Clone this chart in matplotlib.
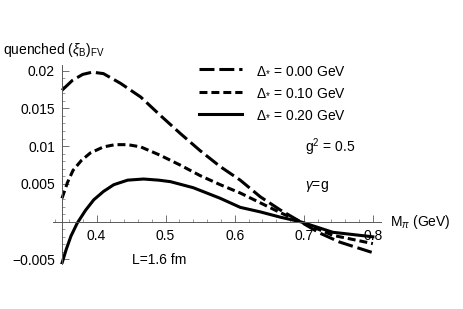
import numpy as np
import matplotlib
matplotlib.use('Agg')
import matplotlib.pyplot as plt
from matplotlib.ticker import MultipleLocator, FixedLocator, FixedFormatter

plt.rcParams['font.family'] = ['Liberation Sans', 'DejaVu Sans']
plt.rcParams['mathtext.fontset'] = 'custom'
plt.rcParams['mathtext.rm'] = 'Liberation Sans'
plt.rcParams['mathtext.it'] = 'Liberation Sans:italic'
plt.rcParams['mathtext.sf'] = 'Liberation Sans'

# values (M_pi in GeV, quenched (xi_B)_FV)
m_d000 = [0.35, 0.365, 0.38, 0.394, 0.41, 0.435, 0.464, 0.492, 0.521, 0.55,
          0.579, 0.608, 0.637, 0.666, 0.695, 0.723, 0.752, 0.80]
xi_d000 = [0.0174, 0.0187, 0.0195, 0.0198, 0.0196, 0.0183, 0.0165, 0.0141,
           0.0117, 0.0094, 0.0073, 0.0055, 0.0033, 0.00155, 0.0, -0.0015,
           -0.0027, -0.0041]

m_d010 = [0.35, 0.358, 0.366, 0.378, 0.391, 0.41, 0.427, 0.445, 0.464, 0.492,
          0.521, 0.55, 0.579, 0.608, 0.637, 0.666, 0.695, 0.742, 0.80]
xi_d010 = [0.0031, 0.0052, 0.0068, 0.0081, 0.0091, 0.0099, 0.0102, 0.0102,
           0.0099, 0.0088, 0.0075, 0.0061, 0.0049, 0.0038, 0.0025, 0.0012,
           0.0, -0.0018, -0.0029]

m_d020 = [0.35, 0.356, 0.363, 0.372, 0.384, 0.396, 0.41, 0.425, 0.445, 0.468,
          0.49, 0.507, 0.54, 0.579, 0.608, 0.637, 0.666, 0.695, 0.742, 0.80]
xi_d020 = [-0.0055, -0.0037, -0.0019, -0.0002, 0.0015, 0.0029, 0.0040,
           0.0049, 0.0055, 0.00565, 0.0055, 0.0053, 0.0045, 0.0031, 0.0019,
           0.0013, 0.0006, 0.0, -0.0014, -0.0020]

labels = [r'$\Delta_{*}$ = 0.00 GeV', r'$\Delta_{*}$ = 0.10 GeV',
          r'$\Delta_{*}$ = 0.20 GeV']
x_ticks = [0.4, 0.5, 0.6, 0.7, 0.8]
y_ticks = [-0.005, 0.005, 0.01, 0.015, 0.02]
y_ticklabels = ['\u22120.005', '0.005', '0.01', '0.015', '0.02']

fig = plt.figure(figsize=(4.63, 3.09), dpi=100)
ax = fig.add_axes([0.1145, 0.1456, 0.708, 0.643])

lw = 2.2
ax.plot(m_d000, xi_d000, color='black', lw=lw, dashes=(4.9, 1.6),
        label=labels[0], dash_capstyle='butt')
ax.plot(m_d010, xi_d010, color='black', lw=lw, dashes=(2.6, 1.3),
        label=labels[1], dash_capstyle='butt')
ax.plot(m_d020, xi_d020, color='black', lw=lw, label=labels[2])

ax.set_xlim(0.337, 0.8115)
ax.set_ylim(-0.0056, 0.0207)

for s in ['top', 'right']:
    ax.spines[s].set_visible(False)
ax.spines['left'].set_position(('data', 0.35))
ax.spines['bottom'].set_position(('data', 0.0))
for s in ['left', 'bottom']:
    ax.spines[s].set_linewidth(0.7)
    ax.spines[s].set_color('0.35')

ax.xaxis.set_major_locator(FixedLocator(x_ticks))
ax.xaxis.set_minor_locator(MultipleLocator(0.02))
ax.yaxis.set_major_locator(FixedLocator(y_ticks))
ax.yaxis.set_major_formatter(FixedFormatter(y_ticklabels))
ax.yaxis.set_minor_locator(MultipleLocator(0.001))
ax.tick_params(which='major', direction='in', length=5, width=0.6,
               color='0.35', labelsize=10, pad=5)
ax.tick_params(which='minor', direction='in', length=2.5, width=0.5,
               color='0.45')

fig.text(0.006, 0.838, r'quenched $(\xi_{\rm B})_{\rm FV}$', fontsize=10,
         va='center', ha='left')
fig.text(0.842, 0.282, r'M$_{\pi}$ (GeV)', fontsize=10, va='center',
         ha='left')
fig.text(0.659, 0.524, r'g$^{2}$ = 0.5', fontsize=10, va='center')
fig.text(0.659, 0.398, r'$\gamma$=g', fontsize=10, va='center')
fig.text(0.285, 0.158, 'L=1.6 fm', fontsize=10, va='center')

ax.legend(loc='upper left', bbox_to_anchor=(0.43, 0.795),
          bbox_transform=fig.transFigure, frameon=False, fontsize=10,
          handlelength=3.1, handletextpad=1.0, labelspacing=0.58,
          borderpad=0, borderaxespad=0)

fig.savefig('out.png', dpi=100)
